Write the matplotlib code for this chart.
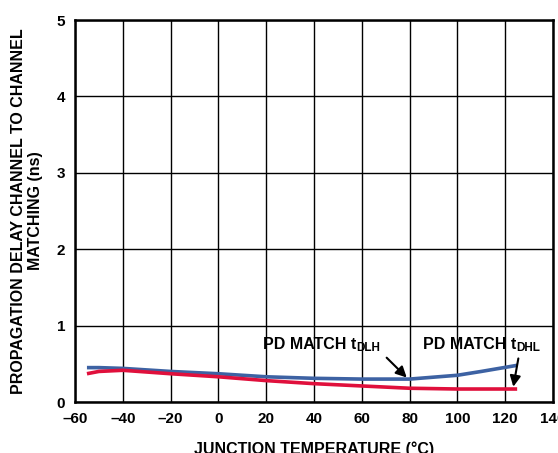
import matplotlib
matplotlib.use('Agg')
import matplotlib.pyplot as plt

plt.rcParams['font.family'] = ['Liberation Sans', 'DejaVu Sans']
plt.rcParams['font.weight'] = 'bold'

# junction temperature (C) and channel-to-channel matching (ns)
temp = [-55, -50, -40, -20, 0, 20, 40, 60, 80, 100, 110, 125]
t_dlh = [0.45, 0.45, 0.44, 0.40, 0.37, 0.33, 0.31, 0.30, 0.30, 0.35, 0.40, 0.48]
t_dhl = [0.37, 0.40, 0.415, 0.37, 0.33, 0.28, 0.24, 0.21, 0.18, 0.17, 0.17, 0.17]

xticks = [-60, -40, -20, 0, 20, 40, 60, 80, 100, 120, 140]
yticks = [0, 1, 2, 3, 4, 5]

fig = plt.figure(figsize=(5.58, 4.53), dpi=100)
ax = fig.add_axes([75 / 558, 1 - 402 / 453, 478 / 558, 382 / 453])

ax.plot(temp, t_dlh, color='#3d62a3', lw=2.6, solid_capstyle='butt', zorder=3)
ax.plot(temp, t_dhl, color='#e0103c', lw=2.6, solid_capstyle='butt', zorder=3)

ax.set_xlim(-60, 140)
ax.set_ylim(0, 5)
ax.set_xticks(xticks)
ax.set_xticklabels([str(v).replace('-', '\u2013') for v in xticks])
ax.set_yticks(yticks)
ax.tick_params(length=0, labelsize=11, pad=7)
ax.grid(True, color='black', lw=1)
for s in ax.spines.values():
    s.set_linewidth(1.8)

ax.set_xlabel('JUNCTION TEMPERATURE (\u00b0C)', fontsize=11.5, fontweight='bold', labelpad=11)
ax.set_ylabel('PROPAGATION DELAY CHANNEL TO CHANNEL\nMATCHING (ns)', fontsize=11.5,
              fontweight='bold', labelpad=10, linespacing=1.15)


def label(x, y, main, sub):
    t = ax.text(x, y, main, fontsize=11.5, fontweight='bold', ha='left', va='baseline', zorder=5)
    ax.annotate(sub, xy=(1, 0), xycoords=t, xytext=(0.5, -1.5), textcoords='offset points',
                fontsize=8.5, fontweight='bold', ha='left', va='bottom', zorder=5)


label(18.5, 0.69, 'PD MATCH t', 'DLH')
label(85.5, 0.70, 'PD MATCH t', 'DHL')

arrow = dict(arrowstyle='-|>', color='black', lw=1.5, mutation_scale=16, shrinkA=0, shrinkB=0)
ax.annotate('', xy=(78.8, 0.32), xytext=(70.4, 0.58), arrowprops=arrow, zorder=5)
ax.annotate('', xy=(123.4, 0.20), xytext=(125.5, 0.57), arrowprops=arrow, zorder=5)

fig.savefig('out.png', dpi=100)
